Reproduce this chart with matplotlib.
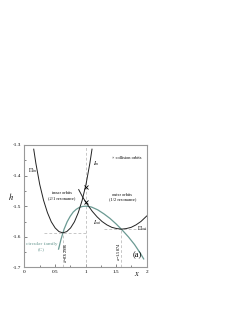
import matplotlib
matplotlib.use("Agg")
import matplotlib.pyplot as plt
from matplotlib.ticker import MultipleLocator

# ---- data ----
pin_x = [0.154, 0.189, 0.252, 0.315, 0.378, 0.441, 0.504, 0.567, 0.630,
         0.693, 0.756, 0.819, 0.882, 0.945, 1.008, 1.071, 1.106]
pin_h = [-1.314, -1.360, -1.429, -1.481, -1.521, -1.551, -1.571, -1.583, -1.587,
         -1.583, -1.571, -1.551, -1.521, -1.481, -1.429, -1.360, -1.314]

pout_x = [0.889, 0.952, 1.032, 1.111, 1.190, 1.270, 1.349, 1.429, 1.508,
          1.587, 1.667, 1.746, 1.825, 1.905, 2.000]
pout_h = [-1.446, -1.470, -1.495, -1.517, -1.535, -1.550, -1.561, -1.569, -1.573,
          -1.575, -1.573, -1.569, -1.561, -1.550, -1.532]

circ_x = [0.56, 0.60, 0.65, 0.70, 0.75, 0.80, 0.85, 0.90, 0.95, 1.00, 1.05,
          1.10, 1.20, 1.30, 1.40, 1.50, 1.60, 1.70, 1.80, 1.90, 1.95]
circ_h = [-1.640, -1.608, -1.575, -1.551, -1.533, -1.519, -1.510, -1.504, -1.501,
          -1.500, -1.501, -1.503, -1.512, -1.525, -1.540, -1.558, -1.578, -1.600,
          -1.625, -1.655, -1.672]

coll_x = [1.0, 1.0]
coll_h = [-1.436, -1.485]

a_in, h_in = 0.62996, -1.587
a_out, h_out = 1.5874, -1.575

xticks = [0, 0.5, 1, 1.5, 2]
xticklabels = ["0", "0.5", "1", "1.5", "2"]
yticks = [-1.7, -1.6, -1.5, -1.4, -1.3]
yticklabels = ["-1.7", "-1.6", "-1.5", "-1.4", "-1.3"]

plt.rcParams['font.family'] = ['Liberation Serif', 'DejaVu Serif']
plt.rcParams['mathtext.fontset'] = 'stix'

fig = plt.figure(figsize=(2.53, 3.27), dpi=100)
ax = fig.add_axes([0.096, 0.182, 0.484, 0.375])

green = "#6b9a93"
gray = "#b0b0b0"

# guide lines
ax.plot([0.33, 1.0], [h_in, h_in], ls=(0, (4, 3)), color=gray, lw=0.5)
ax.plot([a_in, a_in], [-1.7, h_in], ls=(0, (4, 3)), color=gray, lw=0.5)
ax.plot([1.0, 1.0], [-1.7, -1.3], ls=(0, (4, 3)), color=gray, lw=0.5)
ax.plot([1.3, 2.0], [h_out, h_out], ls=(0, (4, 3)), color=gray, lw=0.5)
ax.plot([a_out, a_out], [-1.7, h_out], ls=(0, (4, 3)), color=gray, lw=0.5)

ax.plot(circ_x, circ_h, color=green, lw=0.9)
ax.plot(pin_x, pin_h, color="#222222", lw=0.7)
ax.plot(pout_x, pout_h, color="#222222", lw=0.7)
ax.plot(coll_x, coll_h, ls="none", marker="x", ms=2.5, mew=0.6, color="black")

fs = 3.2
ax.text(0.14, -1.384, r"$\Pi_{in}$", fontsize=4, ha="center", va="center")
ax.text(1.18, -1.36, r"$I_{in}$", fontsize=4, ha="center", va="center")
ax.text(1.2, -1.553, r"$I_{out}$", fontsize=4, ha="center", va="center")
ax.text(1.93, -1.573, r"$\Pi_{out}$", fontsize=4, ha="center", va="center")
ax.text(1.68, -1.343, "× collision orbits", fontsize=fs, ha="center", va="center")
ax.text(0.61, -1.458, "inner orbits", fontsize=fs, ha="center", va="center")
ax.text(0.61, -1.474, "(2/1 resonance)", fontsize=fs, ha="center", va="center")
ax.text(1.6, -1.462, "outer orbits", fontsize=fs, ha="center", va="center")
ax.text(1.6, -1.478, "(1/2 resonance)", fontsize=fs, ha="center", va="center")
ax.text(0.28, -1.625, "circular family", fontsize=3.8, color=green, ha="center", va="center")
ax.text(0.28, -1.641, "(C)", fontsize=3.8, color=green, ha="center", va="center")
ax.text(0.675, -1.65, r"$a$=0.62996", fontsize=fs, rotation=90, ha="center", va="center")
ax.text(1.545, -1.648, r"$a$=1.5874", fontsize=fs, rotation=90, ha="center", va="center")
ax.text(1.84, -1.66, "(a)", fontsize=6, ha="center", va="center")

ax.set_xlim(0, 2)
ax.set_ylim(-1.7, -1.3)
ax.set_xticks(xticks)
ax.set_xticklabels(xticklabels)
ax.set_yticks(yticks)
ax.set_yticklabels(yticklabels)
ax.xaxis.set_minor_locator(MultipleLocator(0.25))
ax.yaxis.set_minor_locator(MultipleLocator(0.05))
ax.tick_params(which="both", direction="in", labelsize=3.8, width=0.5, color="#555555",
               top=False, right=False, pad=2)
ax.tick_params(which="major", length=2)
ax.tick_params(which="minor", length=1.2)
for s in ax.spines.values():
    s.set_color("#999999")
    s.set_linewidth(0.8)

fig.text(0.045, 0.40, r"$h$", fontsize=6, ha="center", va="center")
fig.text(0.54, 0.163, r"$x$", fontsize=6, ha="center", va="center")

fig.savefig("out.png", dpi=100)
